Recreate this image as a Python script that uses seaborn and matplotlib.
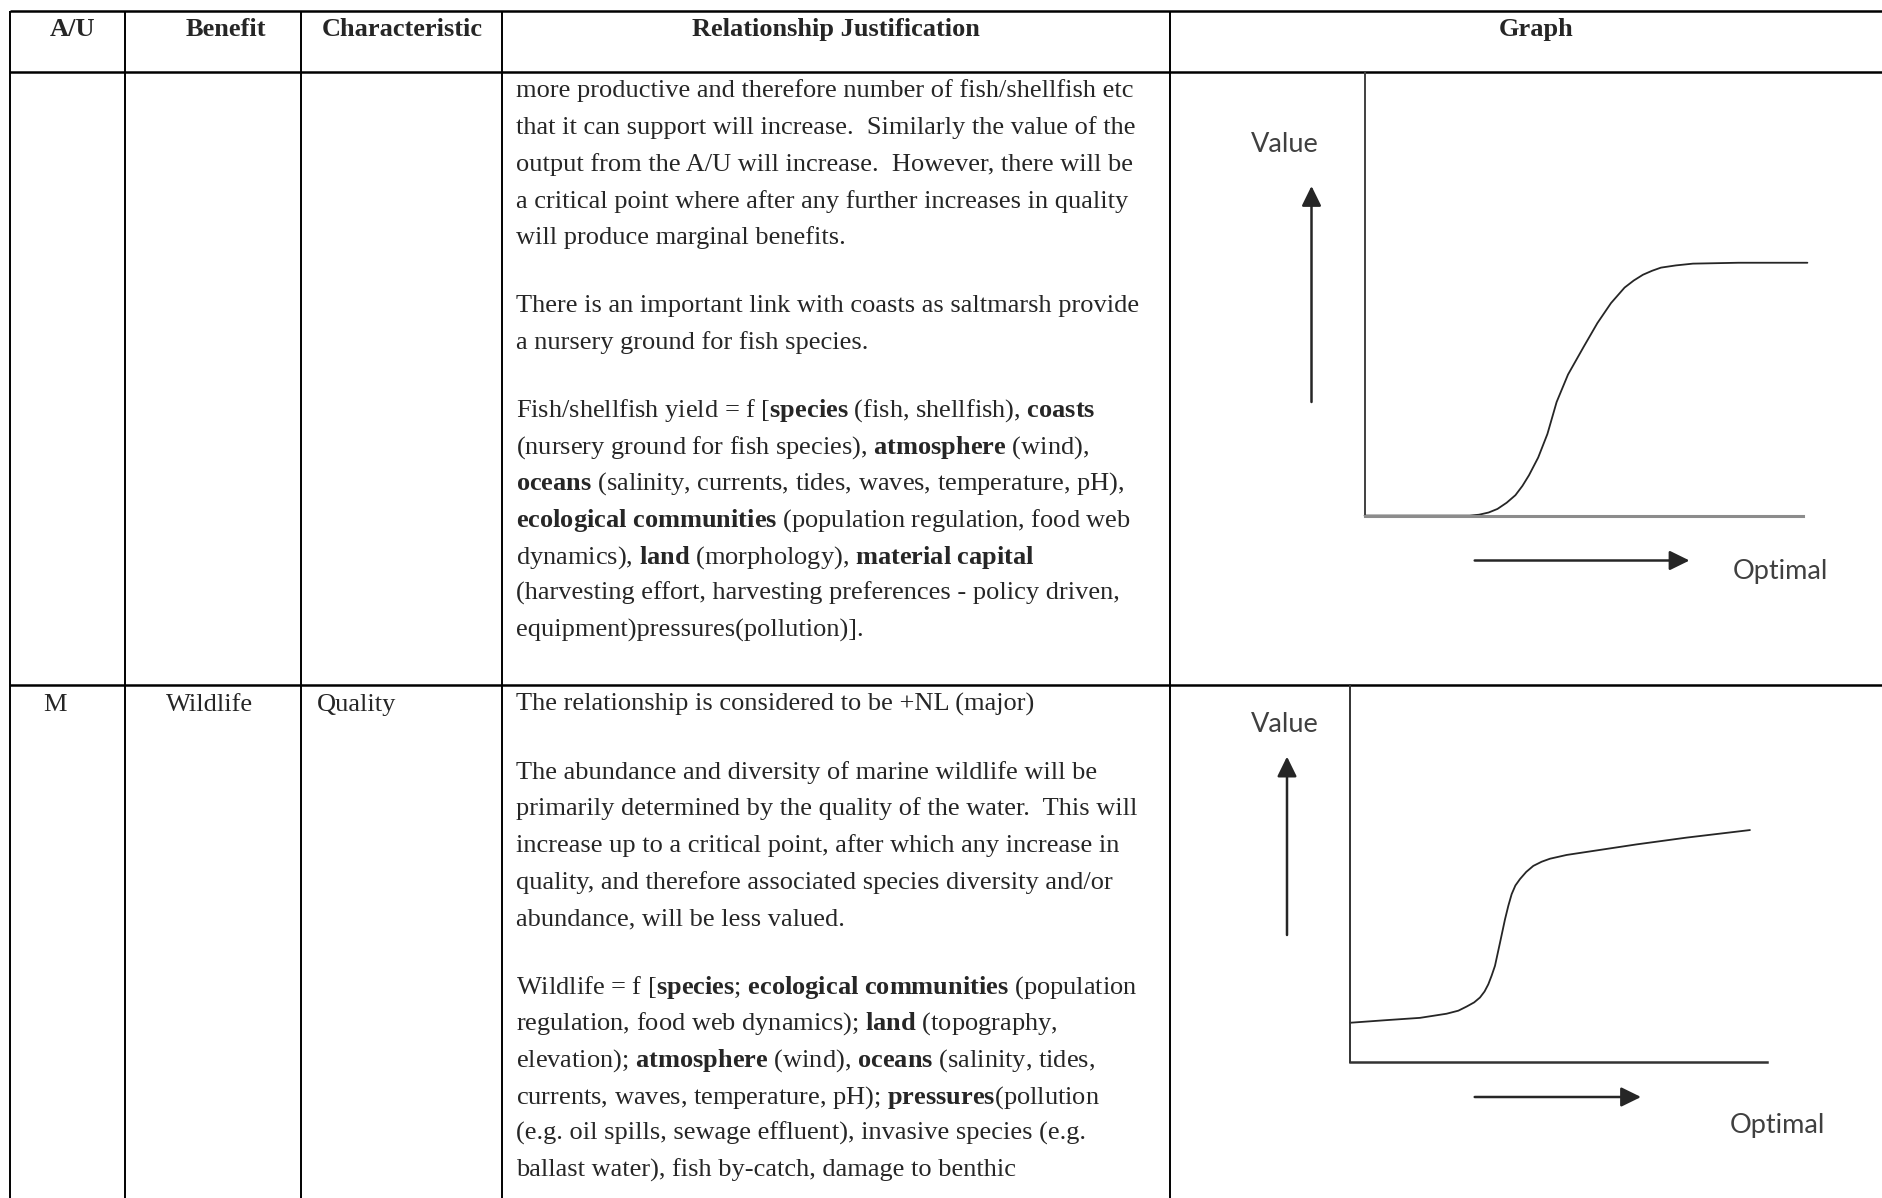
import matplotlib
matplotlib.use('Agg')
import matplotlib.pyplot as plt
import seaborn as sns

# ---- values ----
header_labels = ['A/U', 'Benefit', 'Characteristic', 'Relationship Justification', 'Graph']
row2_labels = ['M', 'Wildlife', 'Quality']

# justification text, one list per paragraph, **...** = bold
row1_text = [
    ["more productive and therefore number of fish/shellfish etc",
     "that it can support will increase.  Similarly the value of the",
     "output from the A/U will increase.  However, there will be",
     "a critical point where after any further increases in quality",
     "will produce marginal benefits."],
    ["There is an important link with coasts as saltmarsh provide",
     "a nursery ground for fish species."],
    ["Fish/shellfish yield = f [**species** (fish, shellfish), **coasts**",
     "(nursery ground for fish species), **atmosphere** (wind),",
     "**oceans** (salinity, currents, tides, waves, temperature, pH),",
     "**ecological communities** (population regulation, food web",
     "dynamics), **land** (morphology), **material capital**",
     "(harvesting effort, harvesting preferences - policy driven,",
     "equipment)pressures(pollution)]."],
]
row2_text = [
    ["The relationship is considered to be +NL (major)"],
    ["The abundance and diversity of marine wildlife will be",
     "primarily determined by the quality of the water.  This will",
     "increase up to a critical point, after which any increase in",
     "quality, and therefore associated species diversity and/or",
     "abundance, will be less valued."],
    ["Wildlife = f [**species**; **ecological communities** (population",
     "regulation, food web dynamics); **land** (topography,",
     "elevation); **atmosphere** (wind), **oceans** (salinity, tides,",
     "currents, waves, temperature, pH); **pressures**(pollution",
     "(e.g. oil spills, sewage effluent), invasive species (e.g.",
     "ballast water), fish by-catch, damage to benthic"],
]

# graph curves, in % of each graph's axis length
fish_x = [0, 12.7, 24.0, 26.1, 28.3, 30.3, 32.4, 34.4, 36.0, 37.5, 39.6, 41.7,
          43.8, 46.4, 50.0, 53.1, 56.2, 59.3, 61.4, 63.5, 65.6, 67.6, 71.0,
          74.9, 85.3, 93.6, 101]
fish_y = [0, 0, 0, 0.2, 0.7, 1.5, 2.9, 4.6, 6.7, 9.1, 13.1, 18.4,
          25.6, 31.8, 38.1, 43.4, 47.9, 51.4, 53.0, 54.3, 55.2, 55.9, 56.4,
          56.8, 57.0, 57.0, 57.0]
wild_x = [0, 8.8, 16.8, 23.2, 26.0, 28.0, 29.8, 31.2, 32.3, 33.2, 34.0, 34.8,
          36.0, 37.2, 38.0, 38.8, 39.7, 40.8, 42.3, 44.0, 46.0, 48.0, 52.0,
          56.8, 68.8, 80.8, 96.0]
wild_y = [10.3, 11.0, 11.6, 12.7, 13.5, 14.6, 15.7, 17.0, 18.6, 20.5, 22.8, 25.4,
          31.5, 37.7, 41.3, 44.4, 46.7, 48.4, 50.3, 51.9, 53.0, 53.8, 54.8,
          55.6, 57.6, 59.4, 61.4]
y_label = 'Value'
x_label = 'Optimal'

sns.set_theme(style='white')
plt.rcParams['font.family'] = ['Liberation Serif', 'DejaVu Serif']
plt.rcParams['mathtext.fontset'] = 'custom'
plt.rcParams['mathtext.rm'] = 'Liberation Serif'
plt.rcParams['mathtext.bf'] = 'Liberation Serif:bold'

W, H = 1883, 1198
fig = plt.figure(figsize=(W / 100, H / 100), dpi=100)
fig.patch.set_facecolor('white')

# full-page axes in pixel units for the table
tab = fig.add_axes([0, 0, 1, 1])
tab.set_xlim(0, W)
tab.set_ylim(H, 0)
tab.axis('off')

tab.hlines([11, 72, 684.5], 10, W, color='black', lw=1.8)
tab.vlines([10, 125, 301, 502, 1170], 11, H, color='black', lw=1.4)

FS = 19
for lab, cx in zip(header_labels, [73, 226, 402, 836, 1536]):
    tab.text(cx, 36, lab, fontsize=FS, fontweight='bold', ha='center', va='baseline')

tab.text(55, 711, row2_labels[0], fontsize=FS, ha='center', va='baseline')
tab.text(210, 711, row2_labels[1], fontsize=FS, ha='center', va='baseline')
tab.text(317, 711, row2_labels[2], fontsize=FS, ha='left', va='baseline')


def to_math(line):
    # **bold** runs -> mathtext bold words
    parts = line.split('**')
    out = []
    for i, p in enumerate(parts):
        if i % 2 == 1:
            out.append(' '.join(r'$\mathbf{%s}$' % w for w in p.split(' ')))
        else:
            out.append(p)
    return ''.join(out)


def draw_paragraphs(paras, y0, step=36.7, gap=31):
    y = y0
    for para in paras:
        for line in para:
            tab.text(516, y, to_math(line), fontsize=FS, ha='left', va='baseline')
            y += step
        y += gap


draw_paragraphs(row1_text, 97.5)
draw_paragraphs(row2_text, 711)


def px_axes(left, top, right, bottom):
    return fig.add_axes([left / W, 1 - bottom / H, (right - left) / W, (bottom - top) / H])


def style_graph(ax, left_col, bottom_col, bottom_lw):
    ax.set(xlim=(0, 100), ylim=(0, 100), xticks=[], yticks=[], xlabel='', ylabel='')
    ax.set_facecolor('none')
    ax.spines['top'].set_visible(False)
    ax.spines['right'].set_visible(False)
    ax.spines['left'].set_color(left_col)
    ax.spines['left'].set_linewidth(1.4)
    ax.spines['bottom'].set_color(bottom_col)
    ax.spines['bottom'].set_linewidth(bottom_lw)


ax1 = px_axes(1364.6, 72, 1803, 515.6)
style_graph(ax1, '#404040', '#8c8c8c', 2.2)
sns.lineplot(x=fish_x, y=fish_y, ax=ax1, color='#262626', linewidth=1.3, clip_on=False)

ax2 = px_axes(1350, 684.5, 1766.6, 1061.6)
style_graph(ax2, '#333333', '#333333', 1.8)
sns.lineplot(x=wild_x, y=wild_y, ax=ax2, color='#262626', linewidth=1.3, clip_on=False)

arrow_style = dict(arrowstyle='-|>,head_length=0.55,head_width=0.27', color='#262626',
                   lw=1.8, mutation_scale=22, shrinkA=0, shrinkB=0)
for tail, tip in [((1311.5, 402), (1311.5, 186)), ((1474.7, 560.5), (1689.5, 560.5)),
                  ((1287, 935), (1287, 756.6)), ((1474.7, 1097), (1641, 1097))]:
    tab.annotate('', xy=tip, xytext=tail, arrowprops=arrow_style)

lab_kw = dict(fontsize=19.5, family='Lato', color='#404040', ha='center', va='center')
tab.text(1284.6, 144.3, y_label, **lab_kw)
tab.text(1780, 571.5, x_label, **lab_kw)
tab.text(1284.6, 724, y_label, **lab_kw)
tab.text(1777, 1126, x_label, **lab_kw)

fig.savefig('out.png', dpi=100)
